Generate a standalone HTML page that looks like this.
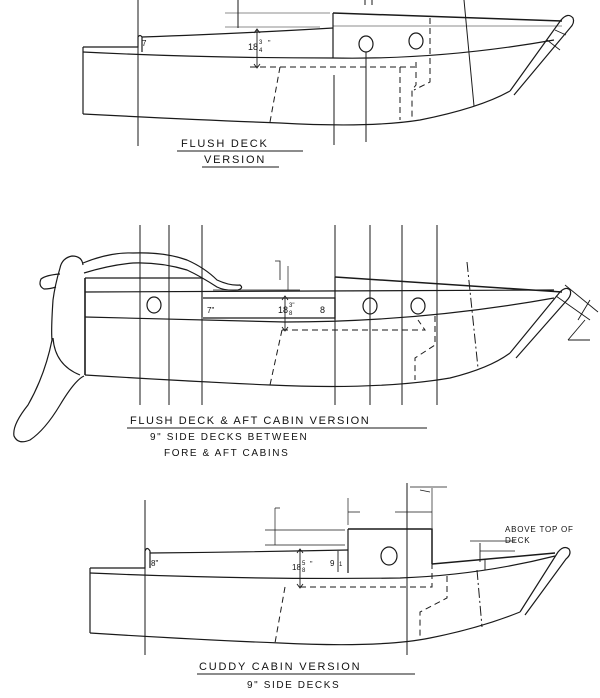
<!DOCTYPE html>
<html><head><style>
html,body{margin:0;padding:0;background:#fff;}
svg{display:block;}
text{font-family:"Liberation Sans",sans-serif;fill:#111;}
</style></head><body>
<svg width="600" height="698" viewBox="0 0 600 698" xmlns="http://www.w3.org/2000/svg" fill="none" stroke="#1a1a1a" stroke-width="1.2">
<!-- ===== SECTION 1 ===== -->
<g>
<path d="M83 47 H138 V37 Q140 34 142 37 V52"/>
<path d="M142 37 Q250 33 333 28"/>
<path d="M333 13 V58"/>
<path d="M333 13 L562 21" stroke-width="1.5"/>
<path d="M83 47 V114"/>
<path d="M83 52 Q200 58 333 58 Q440 60 554 40"/>
<path d="M83 114 Q200 120 280 123 Q370 128 420 120 Q480 108 510 91"/>
<path d="M510 91 L561 20 Q568 12 573 18 Q575 23 570 28 L514 95"/>
<path d="M225 13 H330 M225 27 H320 M333 26 H562" stroke-width="0.6"/>
<ellipse cx="366" cy="44" rx="7" ry="8"/>
<ellipse cx="416" cy="41" rx="7" ry="8"/>
<path d="M138 0 V146 M334 75 V145 M366 52 V142 M464 0 L474 106 M238 0 V28 M365 0 V5 M372 0 V5" stroke-width="1"/>
<path d="M257 30 V67 M254 33 L257 29 L260 33 M254 64 L257 68 L260 64" stroke-width="0.9"/>
<path d="M250 67 H415 M280 67 L270 122 M400 67 V120 M416 62 V85 L412 90 V120 M430 18 V82 L414 90" stroke-dasharray="6,4" stroke-width="1"/>
<path d="M547 40 L560 50 M555 30 L566 35" stroke-width="0.8"/>
<text x="142" y="46" font-size="8" stroke="none">7</text>
<text x="248" y="50" font-size="9" stroke="none">18</text>
<text x="259" y="44" font-size="6" stroke="none">3</text>
<text x="259" y="52" font-size="6" stroke="none">4</text>
<text x="268" y="45" font-size="7" stroke="none">"</text>
<text x="181" y="147" font-size="11" stroke="none" letter-spacing="1.8">FLUSH DECK</text>
<path d="M177 151 H303 M202 167 H279" stroke-width="1.1"/>
<text x="204" y="163" font-size="11" stroke="none" letter-spacing="1.8">VERSION</text>
</g>
<!-- ===== SECTION 2 ===== -->
<g>
<path d="M85 278 H202 V317"/>
<path d="M203 298 H335 V318 H203" />
<path d="M335 277 V320"/>
<path d="M335 277 L562 292" stroke-width="1.5"/>
<path d="M85 278 V375" stroke-width="1.6"/>
<path d="M85 292 Q300 292 554 290"/>
<path d="M85 317 Q200 320 285 322 Q420 322 554 298"/>
<path d="M85 375 Q200 382 270 385 Q380 390 450 378 Q490 368 510 353"/>
<path d="M510 353 L560 292 Q566 286 570 290 Q572 294 568 299 L516 358"/>
<path d="M213 290 H300 M288 266 V290" stroke-width="0.7"/>
<path d="M275 261 H280 V280" stroke-width="0.8"/>
<!-- rudder -->
<path d="M83 265 Q82 256 72 256 Q62 258 60 268 Q55 285 53 300 Q51 330 52 340 Q45 375 28 405 Q12 425 14 436 Q18 445 30 440 Q45 430 60 405 Q75 380 84 376"/>
<path d="M53 338 Q55 365 80 375"/>
<!-- tiller -->
<path d="M83 263 Q110 252 133 253 Q165 252 187 260 Q205 268 217 280 Q230 286 240 285 Q244 288 238 290 Q225 291 217 287 Q200 276 187 270 Q160 262 133 263 Q110 265 84 273"/>
<path d="M60 274 Q46 275 41 279 Q38 286 44 289 Q50 289 56 287"/>
<ellipse cx="154" cy="305" rx="7" ry="8"/>
<ellipse cx="370" cy="306" rx="7" ry="8"/>
<ellipse cx="418" cy="306" rx="7" ry="8"/>
<path d="M140 225 V405 M169 225 V405 M202 225 V405 M335 225 V405 M370 225 V405 M402 225 V405 M437 225 V405" stroke-width="1"/>
<path d="M467 262 L478 368" stroke-dasharray="10,3,2,3" stroke-width="1"/>
<path d="M285 298 V330 M282 300 L285 296 L288 300 M282 327 L285 331 L288 327" stroke-width="0.9"/>
<path d="M282 330 H425 L418 320 M282 330 L270 385 M435 316 V345 L415 358 V380" stroke-dasharray="6,4" stroke-width="1"/>
<path d="M556 296 L590 320 M565 285 L598 312 M568 340 L585 320 M568 340 H590 M590 300 L578 320" stroke-width="0.9"/>
<text x="207" y="313" font-size="8" stroke="none">7"</text>
<text x="278" y="313" font-size="9" stroke="none">18</text>
<text x="289" y="307" font-size="6" stroke="none">3"</text>
<text x="289" y="315" font-size="6" stroke="none">8</text>
<text x="320" y="313" font-size="9" stroke="none">8</text>
<text x="130" y="424" font-size="11" stroke="none" letter-spacing="1.6">FLUSH DECK &amp; AFT CABIN VERSION</text>
<path d="M127 428 H427" stroke-width="1.1"/>
<text x="150" y="440" font-size="10" stroke="none" letter-spacing="1.6">9" SIDE DECKS BETWEEN</text>
<text x="164" y="456" font-size="10" stroke="none" letter-spacing="1.6">FORE &amp; AFT CABINS</text>
</g>
<!-- ===== SECTION 3 ===== -->
<g>
<path d="M90 568 H145 V551 Q147 546 150 551 V568"/>
<path d="M150 553 Q250 552 348 550"/>
<path d="M348 529 V573"/>
<path d="M348 529 H432 V564" stroke-width="1.5"/>
<path d="M432 564 L555 553" stroke-width="1.5"/>
<path d="M90 568 V633"/>
<path d="M90 573 Q250 580 400 578 Q480 575 555 556"/>
<path d="M90 633 Q200 640 280 643 Q380 648 430 638 Q480 628 520 612"/>
<path d="M520 612 L558 552 Q564 545 569 549 Q572 554 566 559 L525 615" />
<ellipse cx="389" cy="556" rx="8" ry="9"/>
<path d="M145 500 V655 M407 483 V655" stroke-width="1"/>
<path d="M275 508 V545 H278 M275 508 H280 M265 530 H345 M265 545 H345 M348 498 V525 M348 512 H360 M395 512 H432 M432 488 V528 M410 487 H447 M430 492 L420 490 M470 541 H515 M480 551 H515" stroke-width="0.7"/>
<path d="M300 550 V587 M297 553 L300 549 L303 553 M297 584 L300 588 L303 584 M338 551 V572 M480 543 V562 M485 560 V570" stroke-width="0.9"/>
<path d="M300 587 H432 V558 M285 587 L275 643 M447 576 V598 L420 612 V640" stroke-dasharray="6,4" stroke-width="1"/>
<path d="M477 570 L482 627" stroke-dasharray="10,3,2,3" stroke-width="1"/>
<text x="151" y="566" font-size="8" stroke="none">8"</text>
<text x="292" y="570" font-size="8" stroke="none">18</text>
<text x="302" y="565" font-size="6" stroke="none">5</text>
<text x="302" y="572" font-size="6" stroke="none">8</text>
<text x="310" y="566" font-size="7" stroke="none">"</text>
<text x="330" y="566" font-size="8" stroke="none">9</text>
<text x="339" y="566" font-size="6" stroke="none">1</text>
<text x="505" y="532" font-size="8" stroke="none" letter-spacing="0.8">ABOVE TOP OF</text>
<text x="505" y="543" font-size="8" stroke="none" letter-spacing="0.8">DECK</text>
<text x="199" y="670" font-size="11" stroke="none" letter-spacing="1.8">CUDDY CABIN VERSION</text>
<path d="M197 674 H415" stroke-width="1.1"/>
<text x="247" y="688" font-size="10" stroke="none" letter-spacing="1.6">9" SIDE DECKS</text>
</g>
</svg>
</body></html>
